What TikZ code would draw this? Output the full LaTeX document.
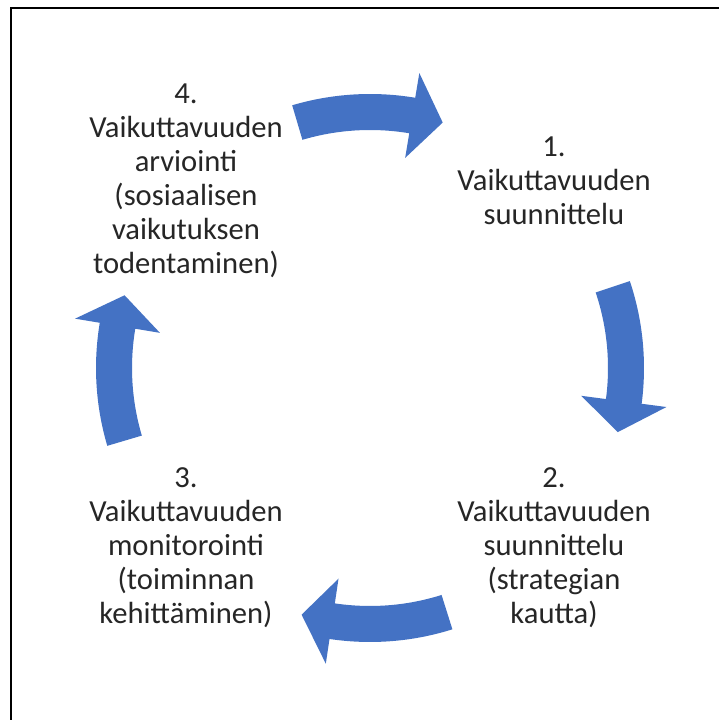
\documentclass[tikz,border=0pt]{standalone}
\usepackage{fontspec}
\setmainfont{Carlito}
\definecolor{arrowblue}{RGB}{68,114,196}
\definecolor{labelgray}{RGB}{38,38,38}
\tikzset{
  x=1pt, y=1pt,
  % curved block arrow around the cycle centre, pointing clockwise
  cycle arrow/.pic={
    \fill[arrowblue]
      (16.5:274pt) arc[start angle=16.5, end angle=-9.5, radius=274pt]
      -- (-9.5:299pt) -- (-16.5:256pt) -- (-9.5:213pt)
      -- (-9.5:238pt) arc[start angle=-9.5, end angle=16.5, radius=238pt]
      -- cycle;
  },
  stagelabel/.style={inner sep=0pt, text=labelgray,
    font=\fontsize{30.6}{34}\selectfont},
}
\begin{document}
\begin{tikzpicture}
\useasboundingbox (0,0) rectangle (719,720);
\fill[white] (0,0) rectangle (719,720);
% frame (only its top and left edges fall inside the page)
\draw[line width=2pt] (11,-20) |- (740,712);

\coordinate (C) at (370,352);

% the four stage labels
\node[stagelabel] (s1) at (554,536) {\begin{tabular}{@{}c@{}}1.\\Vaikuttavuuden\\suunnittelu\end{tabular}};
\node[stagelabel] (s2) at (554,171) {\begin{tabular}{@{}c@{}}2.\\Vaikuttavuuden\\suunnittelu\\(strategian\\kautta)\end{tabular}};
\node[stagelabel] (s3) at (186,171) {\begin{tabular}{@{}c@{}}3.\\Vaikuttavuuden\\monitorointi\\(toiminnan\\kehittäminen)\end{tabular}};
\node[stagelabel] (s4) at (186,538) {\begin{tabular}{@{}c@{}}4.\\Vaikuttavuuden\\arviointi\\(sosiaalisen\\vaikutuksen\\todentaminen)\end{tabular}};

% arrows between the stages
\pic[rotate=90]  at (C) {cycle arrow};
\pic[rotate=2]   at (C) {cycle arrow};
\pic[rotate=-89] at (C) {cycle arrow};
\pic[rotate=180] at (C) {cycle arrow};
\end{tikzpicture}
\end{document}
